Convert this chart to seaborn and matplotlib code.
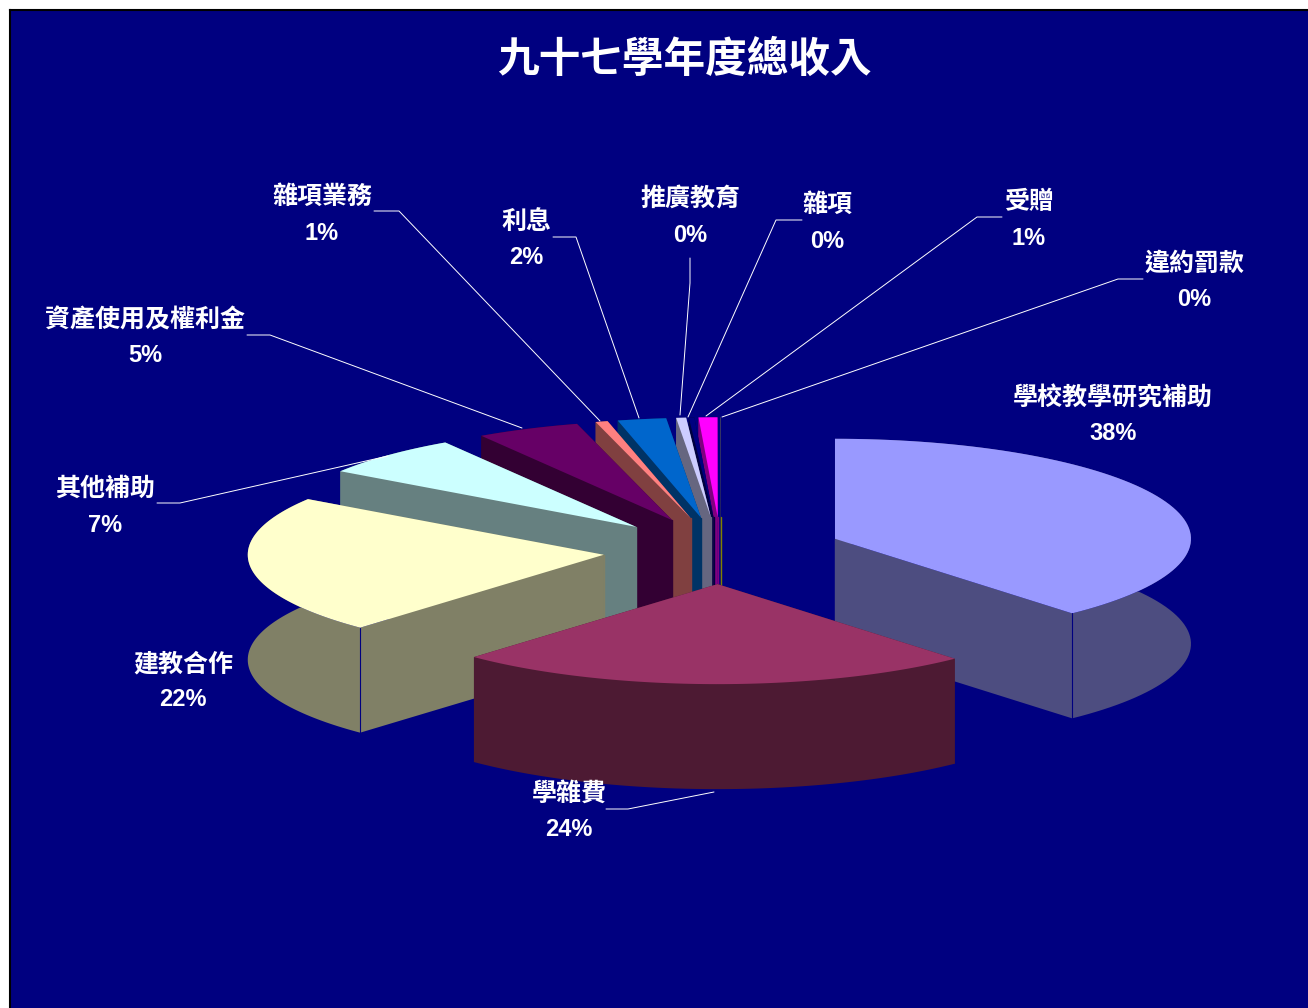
import numpy as np
import matplotlib
matplotlib.use("Agg")
import matplotlib.pyplot as plt
import seaborn as sns

# 九十七學年度總收入, clockwise from 12 o'clock
names = ['學校教學研究補助', '學雜費', '建教合作', '其他補助', '資產使用及權利金', '雜項業務',
         '利息', '推廣教育', '雜項', '受贈', '違約罰款']
values = [38.4, 23.6, 22.4, 6.6, 4.7, 0.55, 2.2, 0.45, 0.25, 0.85, 0.01]
colors = ['#9999FF', '#993366', '#FFFFCC', '#CCFFFF', '#660066', '#FF8080',
          '#0066CC', '#CCCCFF', '#000080', '#FF00FF', '#FFFF00']

# layout, all in picture pixels
cx, cy = 721, 551
rx, ry = 356, 100
depth = 105
explode = [122, 118, 118, 120, 120, 120, 120, 120, 120, 120, 120]
nudge = [0, -2, 0, -1, 0, 0, 0, 0, 0, 0, 0]
draw_order = [10, 9, 8, 7, 6, 5, 4, 3, 2, 0, 1]
corner_edge = {0: -1, 2: 0}
label_pos = [(1113, 398), (569, 794), (183, 664), (105, 489), (145, 320), (322, 197),
             (526, 222), (690, 199), (827, 205), (1029, 202), (1194, 264)]
leaders = {
    1: [(606, 809), (628, 809), (714, 792)],
    3: [(157, 503), (180, 503), (388, 456)],
    4: [(247, 335), (270, 335), (522, 428)],
    5: [(374, 211), (399, 211), (600, 421)],
    6: [(553, 237), (576, 237), (639, 418)],
    7: [(690, 258), (690, 283), (680, 415)],
    8: [(802, 220), (776, 220), (688, 417)],
    9: [(1002, 217), (977, 217), (706, 416)],
    10: [(1143, 279), (1118, 279), (722, 417)],
}

sns.set_theme(style="white")
plt.rcParams['font.family'] = ['Noto Sans CJK TC', 'DejaVu Sans']
palette = sns.color_palette(colors)
sides = [tuple(c * 0.5 for c in col) for col in palette]

fig = plt.figure(figsize=(13.08, 10.08), dpi=100, facecolor='white')
ax = fig.add_axes([10 / 1308, 0, 1298 / 1308, 998 / 1008])
ax.set_facecolor('#000080')
ax.set_xlim(10, 1308)
ax.set_ylim(1008, 10)
ax.set_xticks([])
ax.set_yticks([])
sns.despine(ax=ax, top=False, right=True, bottom=True)
for s in ['left', 'top']:
    ax.spines[s].set_color('black')
    ax.spines[s].set_linewidth(1.5)

fractions = np.array(values) / sum(values) * 2 * np.pi
ends = np.cumsum(fractions)
starts = ends - fractions

z = 2
for i in draw_order:
    mid = (starts[i] + ends[i]) / 2
    ax_x = cx + explode[i] * np.sin(mid) + nudge[i]
    ax_y = cy - explode[i] * np.cos(mid) * ry / rx
    t = np.linspace(starts[i], ends[i], 80)
    arc_x = ax_x + rx * np.sin(t)
    arc_y = ax_y - ry * np.cos(t)
    # side walls: two cuts and the outer strip, then the top over them
    for k in [0, -1]:
        ax.fill([ax_x, arc_x[k], arc_x[k], ax_x],
                [ax_y, arc_y[k], arc_y[k] + depth, ax_y + depth], color=sides[i], lw=0, zorder=z)
    ax.fill(np.r_[arc_x, arc_x[::-1]], np.r_[arc_y, arc_y[::-1] + depth], color=sides[i], lw=0, zorder=z)
    ax.plot([ax_x, ax_x], [ax_y, ax_y + depth], color=sides[i], lw=1, zorder=z)
    ax.fill(np.r_[ax_x, arc_x], np.r_[ax_y, arc_y], color=palette[i], lw=0, zorder=z + 0.5)
    if i in corner_edge:
        k = corner_edge[i]
        ax.plot([arc_x[k], arc_x[k]], [arc_y[k], arc_y[k] + depth], color='#000080', lw=0.8, zorder=z + 0.5)
    z += 1

for i, pts in leaders.items():
    xs, ys = zip(*pts)
    ax.plot(xs, ys, color='white', lw=0.7, zorder=z)

for i, name in enumerate(names):
    x, y = label_pos[i]
    ax.text(x, y, name, color='white', fontsize=18, fontweight='bold', ha='center', va='center', zorder=z)
    ax.text(x, y + 36, f"{round(values[i])}%", color='white', fontsize=17, fontweight='bold',
            ha='center', va='center', family=['Liberation Sans', 'Noto Sans CJK TC'], zorder=z)

ax.text(684, 60, '九十七學年度總收入', color='white', fontsize=30, fontweight='bold',
        ha='center', va='center', zorder=z)

fig.savefig('out.png', dpi=100, facecolor='white')
